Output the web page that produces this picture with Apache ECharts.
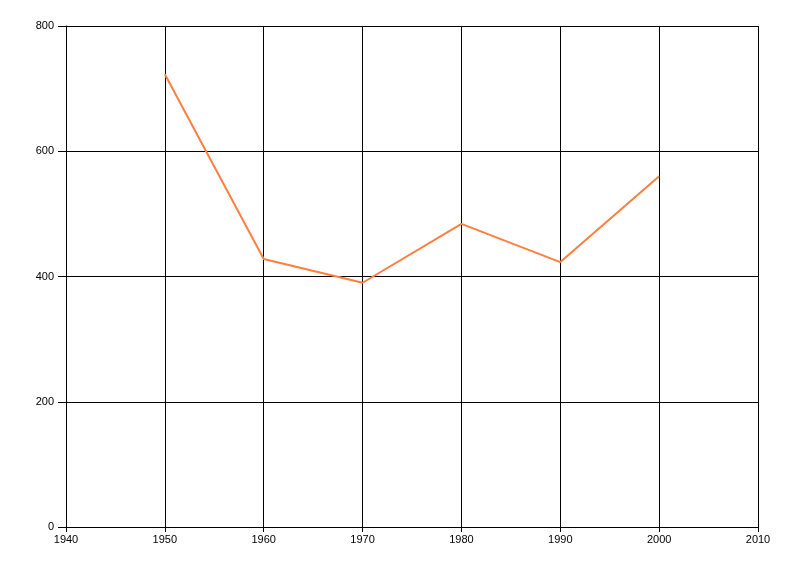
<!DOCTYPE html>
<html>
<head>
<meta charset="utf-8">
<script src="https://cdn.jsdelivr.net/npm/echarts@6/dist/echarts.min.js"></script>
<style>
  html, body { margin: 0; padding: 0; background: #fff; }
  #lineChart { width: 800px; height: 576px; }
</style>
</head>
<body>
<div id="lineChart"></div>
<script>
// data
var years = [1950, 1960, 1970, 1980, 1990, 2000]
var values = [723, 428, 390, 484, 423, 560]

var chart = echarts.init(document.getElementById('lineChart'))
var axisText = { color: '#000', fontSize: 11, fontFamily: 'Liberation Sans, Arial, sans-serif' }

chart.setOption({
  animation: false,
  grid: { left: 66, right: 42, top: 26, bottom: 49 },
  xAxis: {
    type: 'value',
    min: 1940,
    max: 2010,
    interval: 10,
    axisLine: { show: true, lineStyle: { color: '#000', width: 1 } },
    axisTick: { show: true, length: 5, lineStyle: { color: '#000' } },
    axisLabel: Object.assign({ margin: 7, formatter: function (v) { return String(v) } }, axisText),
    splitLine: { show: true, lineStyle: { color: '#000', width: 1 } }
  },
  yAxis: {
    type: 'value',
    min: 0,
    max: 800,
    interval: 200,
    axisLine: { show: true, lineStyle: { color: '#000', width: 1 } },
    axisTick: { show: true, length: 8, lineStyle: { color: '#000' } },
    axisLabel: Object.assign({ margin: 12 }, axisText),
    splitLine: { show: true, lineStyle: { color: '#000', width: 1 } }
  },
  series: [
    {
      type: 'line',
      data: years.map(function (y, i) { return [y, values[i]] }),
      symbol: 'none',
      lineStyle: { color: '#ff7f3f', width: 2 },
      itemStyle: { color: '#ff7f3f' }
    }
  ]
})
</script>
</body>
</html>
